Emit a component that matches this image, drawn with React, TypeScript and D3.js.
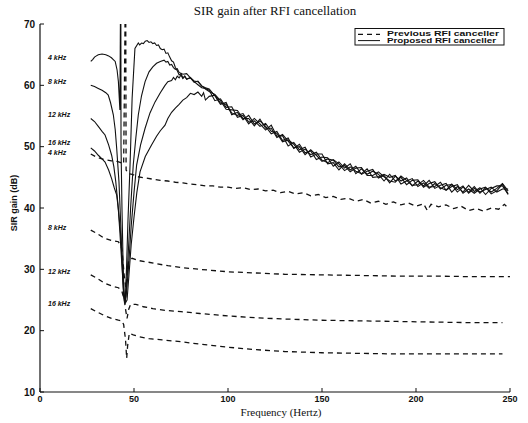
import React from "react";
import * as d3 from "d3";

type Pt = [number, number];

const xTicks = [0, 50, 100, 150, 200, 250];
const yTicks = [10, 20, 30, 40, 50, 60, 70];

// Proposed RFI canceller (solid) — low-frequency part, [Hz, dB]
const prop4Head: Pt[] = [
  [27, 63.9], [28, 64.2], [29, 64.6], [30, 64.8], [31, 65.0], [33, 65.1], [35, 65.0], [36.5, 64.8],
  [38, 64.5], [39, 64.2], [40, 63.9], [41, 62.5], [41.7, 60.6], [42.5, 56], [42.8, 72], [43.0, 72],
  [43.1, 50], [43.6, 40], [44.2, 31], [44.8, 25], [45.3, 24.5], [46, 30], [46.8, 38], [47.9, 47],
  [49, 57.9], [50.5, 66], [52.3, 66.9], [53, 66.6], [54, 66.9], [55, 66.8], [56, 67.2], [57, 67.3],
  [58, 67.0], [59, 67.1], [60, 66.8], [61, 66.9], [62, 66.5], [63, 66.6], [64, 66.0], [65, 65.8],
  [66, 65.9], [67, 65.2], [68, 65.3], [69, 64.6], [70, 64.0], [71, 63.8], [72, 62.9], [73, 62.4],
  [74, 61.7], [75, 61.9], [76, 61.2], [77, 61.5], [78, 61.0], [80, 61.3], [82, 60.6], [84, 60.1],
  [86, 59.6], [88, 59.5],
];
const prop8Head: Pt[] = [
  [27, 60.0], [29, 59.8], [31, 59.5], [33, 59.2], [35, 58.8], [36.3, 58.4], [37.5, 57.2], [39, 55.2],
  [40, 52.8], [40.8, 49.7], [42, 44.3], [43, 37], [43.8, 30], [44.5, 25.5], [45.2, 24.6], [46, 27],
  [47, 33], [48.2, 40], [49.6, 47], [51, 51.5], [52.3, 55.2], [54, 58.3], [55.9, 60.6], [58, 62.2],
  [60, 63.0], [62, 63.6], [64, 63.9], [66, 64.1], [67, 63.8], [68, 63.9], [69, 63.3], [70, 63.4],
  [71, 62.9], [72, 62.6], [73, 62.7], [74, 62.1], [76, 61.8], [78, 61.9], [80, 61.2], [82, 60.7],
  [84, 60.6], [86, 59.9], [88, 59.6],
];
const prop12Head: Pt[] = [
  [27, 54.6], [29, 54.1], [31, 53.3], [33, 52.5], [34.6, 51.9], [36.5, 50.3], [38.1, 48.6], [39.3, 46.7],
  [40.3, 44.3], [41.5, 40.5], [42.5, 36], [43.5, 31], [44.3, 27], [45, 24.8], [45.8, 25.5], [47, 30],
  [48.5, 37], [50, 42.5], [51.4, 47], [53.5, 50.3], [55.9, 53], [58.5, 55.5], [61.2, 57.3], [64, 58.8],
  [66.5, 60.0], [68, 60.6], [70, 60.8], [71, 61.3], [72, 60.9], [73, 61.5], [74, 61.2], [75, 61.7],
  [76, 61.1], [77, 61.5], [78, 61.0], [80, 61.2], [82, 60.5], [84, 60.7], [86, 59.9], [88, 59.4],
];
const prop16Head: Pt[] = [
  [27, 49.8], [29, 49.3], [31, 48.6], [33, 48.0], [34.6, 47.5], [36.5, 46.2], [38.1, 44.8], [39.5, 43.3],
  [40.8, 42.1], [41.8, 39.5], [42.8, 36], [43.8, 31], [44.6, 26.5], [45.4, 24.5], [46.3, 25], [47.3, 29],
  [48.5, 34], [50, 38.5], [51.5, 42.5], [53.2, 45.9], [56, 48.4], [59.4, 50.3], [62, 51.7], [64, 52.6],
  [66.5, 53.5], [68, 54.6], [70, 55.6], [72, 56.3], [74, 56.9], [76, 57.6], [78, 58.0], [80, 58.7],
  [82, 58.5], [84, 58.9], [86, 58.2], [87, 58.8], [88, 57.6],
];

// Converged high-frequency part of the proposed curves
const tailFreq = [
  90, 93, 96, 99, 102, 105, 108, 111, 114, 117, 120, 123, 126, 129, 132, 135, 138, 141, 144, 147,
  150, 153, 156, 159, 162, 165, 168, 171, 174, 177, 180, 183, 186, 189, 192, 195, 198, 201, 204, 207,
  210, 213, 216, 219, 222, 225, 228, 231, 234, 237, 240, 243, 246, 249,
];
const tail4 = [
  59.2, 57.5, 57.8, 56.4, 56.5, 54.8, 55.1, 53.7, 54.6, 53.7, 52.7, 53.5, 51.7, 51.8, 50.1, 50.7, 49.5, 49.9, 48.3, 48.8,
  48.8, 47.2, 47.4, 46.2, 47.2, 46.2, 46.8, 45.5, 46.0, 46.3, 44.9, 45.3, 44.1, 45.2, 44.4, 44.9, 43.6, 44.4, 43.6, 44.5,
  43.2, 43.7, 44.0, 42.6, 43.5, 42.6, 43.7, 42.7, 43.3, 42.2, 43.2, 43.6, 43.6, 42.2,
];
const tail8 = [
  59.4, 58.3, 56.9, 57.2, 55.2, 55.6, 54.4, 55.1, 53.7, 54.2, 53.3, 52.1, 52.5, 51.0, 51.4, 49.7, 50.4, 49.0, 49.3, 47.9,
  48.3, 48.2, 46.8, 47.5, 46.5, 47.2, 45.6, 46.4, 45.5, 46.0, 45.5, 44.4, 45.5, 44.4, 45.0, 43.8, 44.5, 44.6, 43.4, 44.0,
  44.3, 43.1, 43.7, 43.8, 42.6, 43.4, 42.6, 43.5, 42.4, 43.3, 42.6, 43.2, 44.0, 42.8,
];
const tail12 = [
  59.0, 58.5, 57.5, 56.1, 56.0, 55.9, 54.6, 54.6, 53.4, 54.5, 53.0, 53.0, 51.5, 52.0, 50.9, 49.8, 50.0, 48.7, 49.5, 48.6,
  47.6, 48.0, 47.8, 46.7, 46.9, 45.9, 46.5, 46.6, 45.3, 45.3, 45.9, 45.1, 44.4, 44.2, 45.2, 44.5, 43.7, 43.8, 44.5, 43.4,
  43.5, 44.2, 42.9, 43.5, 43.8, 42.4, 43.1, 42.4, 43.1, 43.4, 42.3, 42.8, 43.9, 42.3,
];
const tail16 = [
  58.2, 58.4, 57.1, 56.9, 55.5, 55.1, 55.4, 54.0, 54.2, 53.3, 53.8, 52.5, 52.2, 50.8, 51.1, 50.4, 49.1, 49.6, 48.7, 49.1,
  47.8, 47.4, 47.9, 47.2, 46.1, 46.7, 46.0, 45.6, 46.4, 45.0, 45.1, 45.5, 45.0, 45.3, 43.9, 44.4, 44.8, 43.5, 44.1, 43.2,
  44.0, 43.3, 42.9, 43.9, 43.0, 43.6, 42.4, 43.2, 42.6, 43.0, 43.4, 42.6, 43.1, 43.1,
];

// Previous RFI canceller (dashed), [Hz, dB]
const prev4: Pt[] = [
  [27, 48.8], [30, 48.3], [34, 47.9], [38, 47.7], [41, 47.6], [43, 47.4], [44.5, 47.2], [45.3, 72], [45.6, 72],
  [45.8, 46.2], [47, 45.6], [49, 45.5], [52, 45.1], [56, 44.9], [60, 44.7], [64, 44.5], [68, 44.4], [72, 44.2],
  [76, 44.1], [80, 43.9], [84, 43.8], [88, 43.6], [92, 43.6], [96, 43.4], [100, 43.4], [104, 43.2], [108, 43.3],
  [112, 43.0], [116, 43.1], [120, 42.8], [124, 42.9], [128, 42.5], [132, 42.7], [136, 42.3], [140, 42.5],
  [144, 42.0], [148, 42.2], [152, 41.7], [156, 41.9], [160, 41.4], [164, 41.6], [168, 41.1], [172, 41.4],
  [176, 40.8], [180, 41.1], [184, 40.6], [188, 41.0], [192, 40.5], [196, 40.8], [200, 40.3], [204, 40.7],
  [206, 39.6], [208, 40.6], [212, 40.2], [216, 40.5], [220, 39.9], [224, 40.3], [228, 39.6], [232, 39.9],
  [236, 39.5], [240, 40.0], [244, 39.8], [247, 40.6], [249, 40.0],
];
const prev8: Pt[] = [
  [27, 36.4], [30, 35.9], [34, 35.1], [38, 34.7], [41.7, 34.5], [43.5, 33.5], [44.8, 29], [45.6, 27],
  [46.4, 29.5], [47.2, 31.5], [49, 31.8], [53, 31.4], [57, 31.2], [62, 30.9], [68, 30.6], [75, 30.3],
  [85, 30.0], [100, 29.6], [115, 29.4], [130, 29.2], [150, 29.1], [170, 29.0], [190, 28.9], [210, 28.9],
  [230, 28.8], [250, 28.8],
];
const prev12: Pt[] = [
  [27, 29.1], [30, 28.6], [34, 27.8], [38, 27.3], [41.7, 27.0], [43.5, 26.5], [44.8, 25], [45.5, 23.5],
  [46.3, 22], [47.2, 23.5], [48.2, 24.3], [51, 24.3], [55, 23.9], [60, 23.6], [67, 23.3], [75, 23.1],
  [85, 22.8], [100, 22.4], [115, 22.1], [130, 21.9], [150, 21.7], [170, 21.6], [190, 21.5], [210, 21.4],
  [230, 21.3], [246, 21.3],
];
const prev16: Pt[] = [
  [27, 23.6], [30, 23.1], [34, 22.5], [38, 22.0], [41.7, 21.7], [43.5, 21.6], [44.5, 21.0], [45.5, 18.5],
  [46.1, 15.5], [46.6, 17.5], [47.5, 19.6], [49.6, 19.3], [53, 19.0], [58, 18.7], [65, 18.5], [75, 18.2],
  [85, 17.8], [100, 17.3], [115, 16.9], [130, 16.6], [150, 16.4], [170, 16.3], [190, 16.2], [210, 16.2],
  [230, 16.2], [246, 16.2],
];

// Curve labels at the left: [text, dB position]
const curveLabels: [string, number][] = [
  ["4 kHz", 64.5], ["8 kHz", 60.6], ["12 kHz", 55.2], ["16 kHz", 50.6],
  ["4 kHz", 49.1], ["8 kHz", 36.9], ["12 kHz", 29.6], ["16 kHz", 24.4],
];

const legendItems = ["Previous RFI canceller", "Proposed RFI canceller"];

const W = 528, H = 423;
const M = { left: 40, right: 510, top: 24, bottom: 392 };

export default function App() {
  const x = d3.scaleLinear().domain([0, 250]).range([M.left, M.right]);
  const y = d3.scaleLinear().domain([10, 70]).range([M.bottom, M.top]);
  const line = d3.line<Pt>().x((d) => x(d[0])).y((d) => y(d[1]));

  const withTail = (head: Pt[], tail: number[]): Pt[] =>
    head.concat(tailFreq.map((f, i) => [f, tail[i]] as Pt));

  const proposed = [
    withTail(prop4Head, tail4),
    withTail(prop8Head, tail8),
    withTail(prop12Head, tail12),
    withTail(prop16Head, tail16),
  ];
  const previous = [prev4, prev8, prev12, prev16];

  const sans = "'Liberation Sans', Arial, sans-serif";
  const serif = "'Liberation Serif', 'Times New Roman', serif";

  return (
    <svg
      width={W}
      height={H}
      style={{ position: "fixed", left: 0, top: 0, background: "#fff" }}
    >
      <rect x={0} y={0} width={W} height={H} fill="#fff" />
      <defs>
        <clipPath id="plotClip">
          <rect x={M.left} y={M.top} width={M.right - M.left + 2} height={M.bottom - M.top} />
        </clipPath>
      </defs>

      {/* Title */}
      <text x={275} y={15} textAnchor="middle" fontFamily={serif} fontSize={13} fill="#111">
        SIR gain after RFI cancellation
      </text>

      {/* Axes */}
      <line x1={M.left} x2={M.left} y1={M.top} y2={M.bottom} stroke="#111" strokeWidth={1.2} />
      <line x1={M.left} x2={M.right} y1={M.bottom} y2={M.bottom} stroke="#111" strokeWidth={1.2} />
      {yTicks.map((t) => (
        <g key={"y" + t}>
          <line x1={M.left} x2={M.left + 4} y1={y(t)} y2={y(t)} stroke="#111" strokeWidth={1} />
          <text x={M.left - 5} y={y(t) + 3.5} textAnchor="end" fontFamily={sans} fontWeight="bold" fontSize={10} fill="#111">
            {t}
          </text>
        </g>
      ))}
      {xTicks.map((t) => (
        <g key={"x" + t}>
          <line x1={x(t)} x2={x(t)} y1={M.bottom} y2={M.bottom - 4} stroke="#111" strokeWidth={1} />
          <text x={x(t)} y={402} textAnchor="middle" fontFamily={sans} fontWeight="bold" fontSize={9} fill="#111">
            {t}
          </text>
        </g>
      ))}
      <text x={281} y={415.5} textAnchor="middle" fontFamily={serif} fontSize={11} fill="#111">
        Frequency (Hertz)
      </text>
      <text
        transform={`translate(17,${203}) rotate(-90)`}
        textAnchor="middle"
        fontFamily={sans}
        fontWeight="bold"
        fontSize={9}
        fill="#111"
      >
        SIR gain (dB)
      </text>

      {/* Curves */}
      <g clipPath="url(#plotClip)" fill="none" stroke="#111">
        {proposed.map((s, i) => (
          <path key={"p" + i} d={line(s) || ""} strokeWidth={1.1} />
        ))}
        {previous.map((s, i) => (
          <path key={"q" + i} d={line(s) || ""} strokeWidth={1.3} strokeDasharray="5 4" />
        ))}
      </g>

      {/* Curve labels */}
      {curveLabels.map(([t, v], i) => (
        <text
          key={"l" + i}
          x={48}
          y={y(v) + 2.5}
          fontFamily={sans}
          fontStyle="italic"
          fontWeight="bold"
          fontSize={7}
          fill="#111"
        >
          {t}
        </text>
      ))}

      {/* Legend */}
      <rect x={355} y={28.5} width={149} height={16.5} fill="#fff" stroke="#111" strokeWidth={1} />
      <line x1={358} x2={380} y1={34.3} y2={34.3} stroke="#111" strokeWidth={1.3} strokeDasharray="5 4" />
      <line x1={358} x2={380} y1={40.6} y2={40.6} stroke="#111" strokeWidth={1} />
      {legendItems.map((t, i) => (
        <text
          key={"g" + i}
          x={387}
          y={36.4 + i * 6.5}
          fontFamily={sans}
          fontWeight="bold"
          fontSize={6.3}
          textLength={i === 0 ? 112 : 109}
          lengthAdjust="spacingAndGlyphs"
          fill="#111"
        >
          {t}
        </text>
      ))}
    </svg>
  );
}
